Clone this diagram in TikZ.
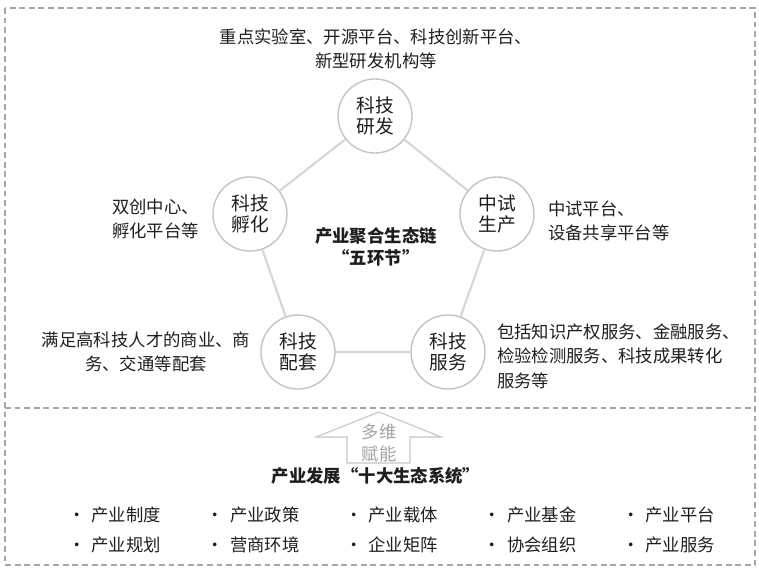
\documentclass[tikz,border=0pt]{standalone}
\usepackage{fontspec}
\setmainfont{Noto Sans CJK SC}
\usetikzlibrary{positioning}
\definecolor{ink}{HTML}{1E1E1E}
\definecolor{ringgray}{HTML}{C4C4C4}
\definecolor{linkgray}{HTML}{D6D6D6}
\definecolor{framegray}{HTML}{A6A6A6}
\definecolor{softgray}{HTML}{A3A3A3}

\begin{document}
\begin{tikzpicture}[x=0.03cm, y=-0.03cm,
  ring/.style={circle, draw=ringgray, line width=1.2pt, fill=white, minimum size=2.22cm, inner sep=0pt, align=center, text=ink, font=\fontsize{16}{17.5}\selectfont},
  link/.style={draw=linkgray, line width=1.8pt},
  note/.style={text=ink, inner sep=0pt, font=\fontsize{14.8}{21}\selectfont},
  title/.style={text=ink, inner sep=0pt, align=center, font=\bfseries\fontsize{14.8}{19}\selectfont},
  frame/.style={draw=framegray, line width=0.9pt, dash pattern=on 5pt off 3.2pt},
  item/.style={text=ink, inner sep=0pt, anchor=west, font=\fontsize{14.8}{17}\selectfont}
]
  \useasboundingbox (0,0) rectangle (759,574);
  \draw[frame] (5,8) rectangle (755,565);
  \draw[frame] (5,408) -- (755,408);

  \node[ring] (rd) at (375,116) {科技\\研发};
  \node[ring] (fh) at (250,214) {科技\\孵化};
  \node[ring] (zs) at (497,214) {中试\\生产};
  \node[ring] (pt) at (298,352) {科技\\配套};
  \node[ring] (fw) at (448,352) {科技\\服务};

  \draw[link] (rd) -- (zs);
  \draw[link] (zs) -- (fw);
  \draw[link] (fw) -- (pt);
  \draw[link] (pt) -- (fh);
  \draw[link] (fh) -- (rd);

  \node[title] (core) at (376,247) {产业聚合生态链\\“五环节”};

  \node[note, align=center] (rdnote) at (376,49) {重点实验室、开源平台、科技创新平台、\\新型研发机构等};
  \node[note, align=left, anchor=west] (fhnote) at (112,219) {双创中心、\\孵化平台等};
  \node[note, align=left, anchor=west] (zsnote) at (548,221) {中试平台、\\设备共享平台等};
  \node[note, align=center] (ptnote) at (146,352) {满足高科技人才的商业、商\\务、交通等配套};
  \node[note, align=left, anchor=west] (fwnote) at (497,356) {包括知识产权服务、金融服务、\\检验检测服务、科技成果转化\\服务等};

  \draw[draw=ringgray, line width=0.9pt, line join=miter] (379,412) -- (441,437) -- (410,437) -- (410,463) -- (347,463) -- (347,437) -- (316,437) -- cycle;
  \node[text=softgray, align=center, inner sep=0pt, font=\fontsize{14.8}{19}\selectfont] (fn) at (379,443) {多维\\赋能};

  \node[title] (sys) at (376,476) {产业发展“十大生态系统”};

  \foreach \a/\b [count=\i from 0] in {产业制度/产业规划, 产业政策/营商环境, 产业载体/企业矩阵, 产业基金/协会组织, 产业平台/产业服务} {
    \node[item] (up\i) at (68+138.5*\i,515) {·\hspace{0.35em}\a};
    \node[item] (dn\i) at (68+138.5*\i,545) {·\hspace{0.35em}\b};
  }
\end{tikzpicture}
\end{document}
